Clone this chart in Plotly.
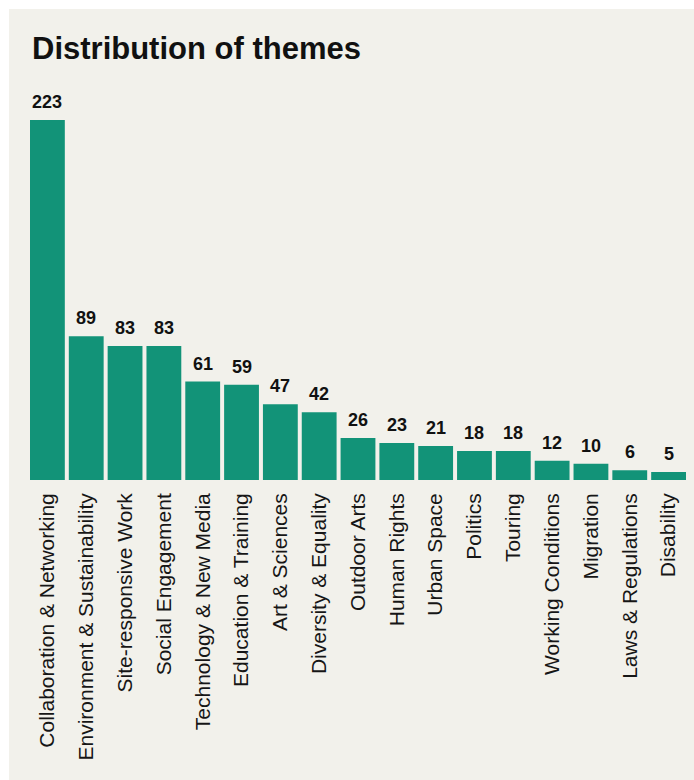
import plotly.graph_objects as go

# Theme counts, sorted from most to least frequent
themes = [
    "Collaboration & Networking",
    "Environment & Sustainability",
    "Site-responsive Work",
    "Social Engagement",
    "Technology & New Media",
    "Education & Training",
    "Art & Sciences",
    "Diversity & Equality",
    "Outdoor Arts",
    "Human Rights",
    "Urban Space",
    "Politics",
    "Touring",
    "Working Conditions",
    "Migration",
    "Laws & Regulations",
    "Disability",
]
counts = [223, 89, 83, 83, 61, 59, 47, 42, 26, 23, 21, 18, 18, 12, 10, 6, 5]

BAR_COLOR = "#129378"
PANEL_BG = "#f2f1eb"
FONT = "Liberation Sans, Arial, sans-serif"

W, H = 694, 780
M_L, M_R, M_T, M_B = 28, 6, 90, 300
plot_h = H - M_T - M_B
px_per_unit = 1.614
y_max = plot_h / px_per_unit

fig = go.Figure()
fig.add_trace(go.Bar(
    x=themes,
    y=counts,
    marker=dict(color=BAR_COLOR, line=dict(width=0)),
    hoverinfo="x+y",
))

# value labels above each bar
for t, c in zip(themes, counts):
    fig.add_annotation(
        x=t, y=c, text=f"<b>{c}</b>",
        showarrow=False, yanchor="bottom", yshift=6,
        font=dict(family=FONT, size=18, color="#111111"),
    )

# light panel behind the chart, leaving a thin white border top/left
plot_w = W - M_L - M_R
fig.add_shape(
    type="rect", xref="paper", yref="paper", layer="below",
    x0=(9 - M_L) / plot_w, x1=(W + 5 - M_L) / plot_w,
    y0=-(M_B + 5) / plot_h, y1=(H - M_B - 9) / plot_h,
    fillcolor=PANEL_BG, line=dict(width=0),
)

fig.update_layout(
    width=W, height=H,
    margin=dict(l=M_L, r=M_R, t=M_T, b=M_B),
    paper_bgcolor="white",
    plot_bgcolor="rgba(0,0,0,0)",
    bargap=0.103,
    showlegend=False,
    title=dict(
        text="<b>Distribution of themes</b>",
        xref="container", yref="container",
        x=32 / W, xanchor="left",
        y=1 - 48 / H, yanchor="middle",
        font=dict(family=FONT, size=31, color="#111111"),
    ),
    xaxis=dict(
        tickangle=-90,
        showgrid=False, zeroline=False, showline=False,
        ticks="", ticklabelstandoff=8,
        tickfont=dict(family=FONT, size=21, color="#161616"),
    ),
    yaxis=dict(
        range=[0, y_max], visible=False, showgrid=False, zeroline=False,
    ),
)

fig.write_html("out.html")
